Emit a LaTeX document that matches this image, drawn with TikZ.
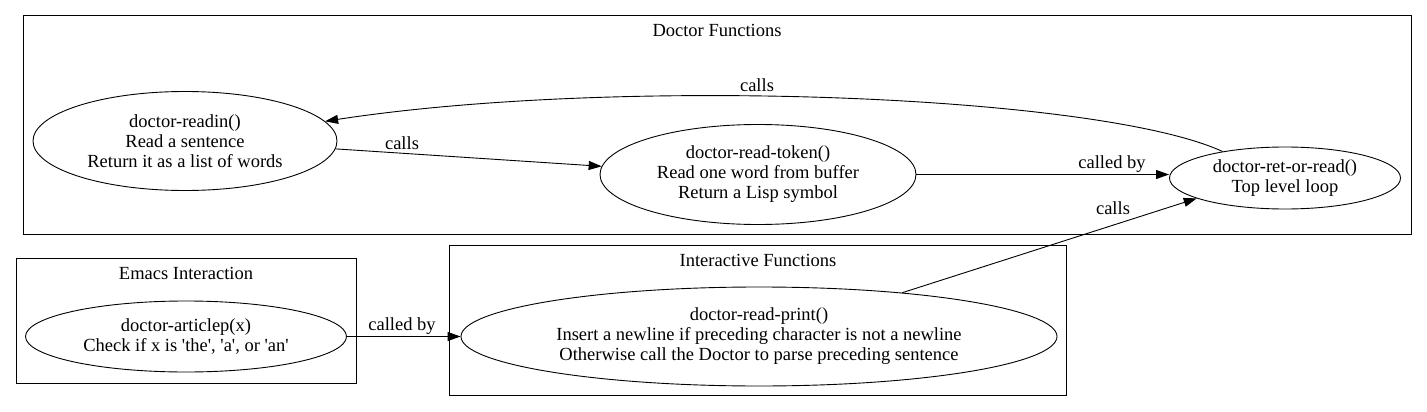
\documentclass[tikz,border=0pt]{standalone}
\usepackage{fontspec}
\setmainfont{Liberation Serif}
\usetikzlibrary{shapes.geometric, arrows.meta}

\begin{document}
\begin{tikzpicture}[x=1pt, y=-1pt,
        font=\fontsize{18.5}{20}\selectfont,
        fn/.style={draw, ellipse, align=center, inner sep=0pt, line width=0.9pt},
        grp/.style={draw, line width=1pt},
        lbl/.style={inner sep=1pt},
        link/.style={line width=0.9pt, -{Triangle[length=13pt,width=9pt]}}]
        \useasboundingbox (0,0) rectangle (1427,412);

        \draw[grp] (23,16) rectangle (1411,234);
        \draw[grp] (16,258) rectangle (356,383);
        \draw[grp] (449,245) rectangle (1066,395);

        \node[lbl] (doctorlbl) at (717,30) {Doctor Functions};
        \node[lbl] (emacslbl) at (186,273) {Emacs Interaction};
        \node[lbl] (interlbl) at (758,260) {Interactive Functions};

        \node[fn, minimum width=304, minimum height=99] (readin) at (185,141)
            {doctor-readin()\\Read a sentence\\Return it as a list of words};
        \node[fn, minimum width=316, minimum height=100] (readtoken) at (758,174.5)
            {doctor-read-token()\\Read one word from buffer\\Return a Lisp symbol};
        \node[fn, minimum width=231, minimum height=62] (retread) at (1285,178)
            {doctor-ret-or-read()\\Top level loop};
        \node[fn, minimum width=321, minimum height=71] (articlep) at (186,336.5)
            {doctor-articlep(x)\\Check if x is \textquotesingle the\textquotesingle, \textquotesingle a\textquotesingle, or \textquotesingle an\textquotesingle};
        \node[fn, minimum width=596, minimum height=99] (readprint) at (759,336.5)
            {doctor-read-print()\\Insert a newline if preceding character is not a newline\\Otherwise call the Doctor to parse preceding sentence};

        \draw[link] (readin.-3) -- (readtoken.177);
        \draw[link] (readtoken.east) -- (retread.west |- readtoken.east);
        \draw[link] (retread.157) .. controls (1100,95) and (620,76) .. (readin.8);
        \draw[link] (articlep.east) -- (readprint.west);
        \draw[link] (readprint.17) -- (retread.193);

        \node[lbl] (calls1) at (402,143) {calls};
        \node[lbl] (calledby1) at (1112,164) {called by};
        \node[lbl] (calls2) at (757,85) {calls};
        \node[lbl] (calledby2) at (402,326) {called by};
        \node[lbl] (calls3) at (1113,208) {calls};
\end{tikzpicture}
\end{document}
